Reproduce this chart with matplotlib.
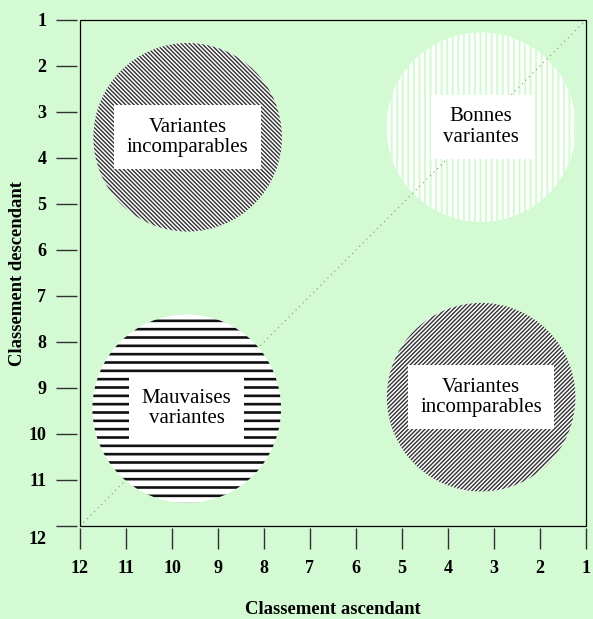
import matplotlib
matplotlib.use("Agg")
import matplotlib.pyplot as plt
from matplotlib.patches import Circle, Rectangle
from matplotlib.transforms import ScaledTranslation

# ---- data ----
ranks = list(range(1, 13))
tick_labels = [str(r) for r in ranks]

zone_labels = ["Variantes\nincomparables", "Bonnes\nvariantes",
               "Mauvaises\nvariantes", "Variantes\nincomparables"]
zone_x = [9.66, 3.28, 9.68, 3.28]      # classement ascendant
zone_y = [3.55, 3.33, 9.45, 9.20]      # classement descendant
zone_r = [2.05, 2.06, 2.05, 2.05]

diag_x = [12, 1]
diag_y = [12, 1]

# ---- styles ----
BG = "#D3FAD3"
zone_hatch = ["\\" * 8, "|||", "--", "/" * 8]
zone_hcolor = ["#303030", BG, "#101010", "#303030"]
zone_hlw = [1.0, 1.5, 1.9, 1.0]
zone_z = [3, 1, 3, 3]

W, H, DPI = 593, 619, 100
fig = plt.figure(figsize=(W / DPI, H / DPI), dpi=DPI, facecolor=BG)
ax = fig.add_axes([80 / W, 1 - 526 / H, 506 / W, 506 / H])
ax.set_facecolor(BG)
ax.set_xlim(12, 1)
ax.set_ylim(12, 1)

serif = ["Liberation Serif", "DejaVu Serif"]

for x, y, r, lab, h, hc, hlw, z in zip(zone_x, zone_y, zone_r, zone_labels,
                                        zone_hatch, zone_hcolor, zone_hlw, zone_z):
    c = Circle((x, y), r, facecolor="white", edgecolor=hc, linewidth=0,
               hatch=h, zorder=z)
    if hasattr(c, "set_hatch_linewidth"):
        c.set_hatch_linewidth(hlw)
    ax.add_patch(c)
    ax.text(x, y, lab, ha="center", va="center", fontsize=15, family=serif,
            linespacing=1.1, zorder=6,
            bbox=dict(boxstyle="square,pad=0.6", facecolor="white",
                      edgecolor="none"))

ax.plot(diag_x, diag_y, linestyle=(0, (1, 3.5)), color="#8a8a8a",
        linewidth=0.8, zorder=2)

# frame
ax.add_patch(Rectangle((0, 0), 1, 1, transform=ax.transAxes, fill=False,
                       edgecolor="black", linewidth=0.9, zorder=7, clip_on=False))
for s in ax.spines.values():
    s.set_visible(False)
ax.spines["left"].set_position(("outward", 2.2))
ax.spines["bottom"].set_position(("outward", 1.5))

ax.set_xticks(ranks)
ax.set_xticklabels(tick_labels)
ax.set_yticks(ranks)
ax.set_yticklabels(tick_labels)
ax.tick_params(axis="both", direction="out", length=15, width=1.0,
               color="#303030", labelsize=13)
ax.tick_params(axis="y", pad=7)
ax.tick_params(axis="x", pad=8)
for lbl in ax.get_xticklabels() + ax.get_yticklabels():
    lbl.set_family(serif)
    lbl.set_fontweight("bold")

# the "12" label of the vertical axis sits a little lower
ylbl = ax.get_yticklabels()[-1]
ylbl.set_transform(ylbl.get_transform() + ScaledTranslation(0, -11 / DPI, fig.dpi_scale_trans))

fig.text(333 / W, 1 - 609 / H, "Classement ascendant", ha="center", va="center",
         fontsize=13.4, fontweight="bold", family=serif)
fig.text(18 / W, 1 - 273 / H, "Classement descendant", ha="center", va="center",
         rotation=90, fontsize=13.4, fontweight="bold", family=serif)

fig.savefig("out.png", dpi=DPI, facecolor=BG)
